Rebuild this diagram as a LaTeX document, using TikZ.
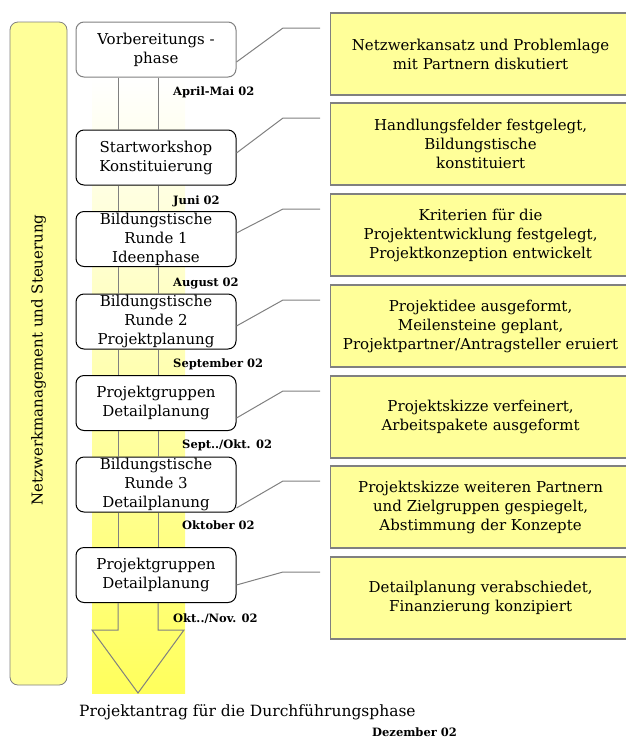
\documentclass[tikz,border=0pt]{standalone}
\usepackage{fontspec}
\setmainfont{DejaVu Serif}
\usepackage{tikz}
\usetikzlibrary{calc}
\definecolor{hellgelb}{RGB}{255,255,153}
\definecolor{rahmen}{RGB}{128,128,128}

\begin{document}
\begin{tikzpicture}[x=1pt, y=-1pt,
  phase/.style={rectangle, rounded corners=8pt, draw, line width=1pt, fill=white, minimum width=160pt, minimum height=55pt, inner sep=0pt, align=center, font=\fontsize{15}{19}\selectfont},
  ergebnis/.style={rectangle, draw=rahmen, line width=1.2pt, fill=hellgelb, minimum width=300pt, minimum height=82pt, anchor=west, align=center, font=\fontsize{15}{19}\selectfont},
  datum/.style={anchor=base west, inner sep=0pt, font=\bfseries\fontsize{11.5}{13}\selectfont},
  linie/.style={draw=rahmen, line width=1pt}]
  \useasboundingbox (0,0) rectangle (626,740);
  % Hintergrund
  \shade[top color=white, bottom color=hellgelb!60!yellow] (92,77) rectangle (185,693);
  \node[rectangle, rounded corners=8pt, draw=rahmen, line width=0.8pt, fill=hellgelb, rotate=90, minimum width=663pt, minimum height=57pt] (steuerung) at (38.5,353.5) {};
  \node[rotate=90, font=\fontsize{15}{18}\selectfont] (steuertext) at (38.5,360) {Netzwerkmanagement und Steuerung};
  % Phasen
  \foreach \n/\y/\c/\txt in {1/49.5/rahmen/{Vorbereitungs -\\phase},
                             2/157.5/black/{Startworkshop\\Konstituierung},
                             3/239/black/{Bildungstische\\Runde 1\\Ideenphase},
                             4/321.5/black/{Bildungstische\\Runde 2\\Projektplanung},
                             5/403/black/{Projektgruppen\\Detailplanung},
                             6/484.5/black/{Bildungstische\\Runde 3\\Detailplanung},
                             7/575/black/{Projektgruppen\\Detailplanung}}
    \node[phase, draw=\c] (l\n) at (156,\y) {\txt};
  % Ergebnisse
  \foreach \n/\y/\txt in {1/54/{Netzwerkansatz und Problemlage\\mit Partnern diskutiert},
                          2/144/{Handlungsfelder festgelegt,\\Bildungstische\\konstituiert},
                          3/235/{Kriterien für die\\Projektentwicklung festgelegt,\\Projektkonzeption entwickelt},
                          4/326/{Projektidee ausgeformt,\\Meilensteine geplant,\\Projektpartner/Antragsteller eruiert},
                          5/417/{Projektskizze verfeinert,\\Arbeitspakete ausgeformt},
                          6/507/{Projektskizze weiteren Partnern\\und Zielgruppen gespiegelt,\\Abstimmung der Konzepte},
                          7/598/{Detailplanung verabschiedet,\\Finanzierung konzipiert}}
    \node[ergebnis] (r\n) at (330,\y) {\txt};
  % Verbindungen
  \foreach \n/\s in {1/12.5, 2/-4.5, 3/-6, 4/4.5, 5/15, 6/23.5, 7/10}
    \draw[linie] ($(l\n.east)+(0,\s)$) -- ($(r\n.west)+(-47,-26)$) -- ($(r\n.west)+(-10,-26)$);
  % Pfeil
  \coordinate (pl) at (118,0);
  \coordinate (pr) at (158,0);
  \coordinate (spitze) at (138,693);
  \foreach \a/\b in {1/2, 2/3, 3/4, 4/5, 5/6, 6/7} {
    \draw[linie] (l\a.south -| pl) -- (l\b.north -| pl);
    \draw[linie] (l\a.south -| pr) -- (l\b.north -| pr);
  }
  \draw[linie] (l7.south -| pl) -- (118,630) -- (92,630) -- (spitze) -- (184,630) -- (158,630) -- (l7.south -| pr);
  % Termine
  \node[datum] (d1) at (173,95) {April-Mai 02};
  \node[datum] (d2) at (173,204) {Juni 02};
  \node[datum] (d3) at (173,286) {August 02};
  \node[datum] (d4) at (173,367) {September 02};
  \node[datum] (d5) at (182,448) {Sept../Okt. 02};
  \node[datum] (d6) at (182,529) {Oktober 02};
  \node[datum] (d7) at (173,622) {Okt../Nov. 02};
  \node[anchor=base west, inner sep=0pt, font=\fontsize{15.5}{18}\selectfont] (antrag) at (79,716) {Projektantrag für die Durchführungsphase};
  \node[datum] (d8) at (372,736) {Dezember 02};
\end{tikzpicture}
\end{document}
